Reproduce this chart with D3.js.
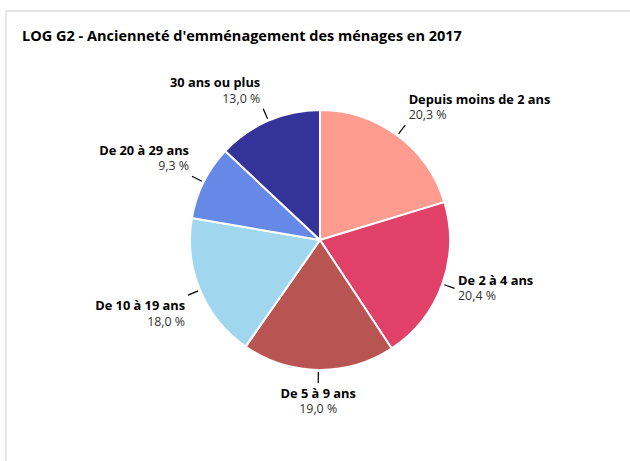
<!DOCTYPE html>
<html><head><meta charset="utf-8">
<script src="https://cdn.jsdelivr.net/npm/d3@7"></script>
<style>body{margin:0;background:#fff;} svg{display:block;font-family:"Open Sans",sans-serif;}</style>
</head><body>
<script>
const title = "LOG G2 - Ancienneté d'emménagement des ménages en 2017";
const categories = ["Depuis moins de 2 ans","De 2 à 4 ans","De 5 à 9 ans","De 10 à 19 ans","De 20 à 29 ans","30 ans ou plus"];
const values = [20.3, 20.4, 19.0, 18.0, 9.3, 13.0];
const colors = ["#ff9b8f","#e14169","#b85552","#a0d7ee","#6688e6","#333399"];

const W = 630, H = 461;
const svg = d3.select("body").append("svg").attr("width", W).attr("height", H);

svg.append("rect").attr("x",6).attr("y",11).attr("width",W+20).attr("height",H+20)
  .attr("fill","#fff").attr("stroke","#e6e6e6").attr("stroke-width",2);

svg.append("text").attr("x",22).attr("y",40.5).attr("font-size",14.5).attr("font-weight","bold")
  .attr("fill","#000").text(title);

const cx = 320, cy = 240, R = 130;
const g = svg.append("g").attr("transform",`translate(${cx},${cy})`);
const pie = d3.pie().sort(null).value(d=>d)(values);
const arc = d3.arc().innerRadius(0).outerRadius(R);

g.selectAll("path.slice").data(pie).enter().append("path")
  .attr("d",arc).attr("fill",(d,i)=>colors[i])
  .attr("stroke","#fff").attr("stroke-width",2).attr("stroke-linejoin","round");

const fmt = v => d3.format(".1f")(v).replace(".",",") + " %";

pie.forEach((d,i)=>{
  const a = (d.startAngle+d.endAngle)/2;
  const s = Math.sin(a), c = Math.cos(a);
  const x1 = (R+2)*s, y1 = -(R+2)*c, x2 = (R+13)*s, y2 = -(R+13)*c;
  g.append("line").attr("x1",x1).attr("y1",y1).attr("x2",x2).attr("y2",y2)
    .attr("stroke","#000").attr("stroke-width",1.2);
  let anchor, tx;
  if (Math.abs(s) < 0.2) { anchor = "middle"; tx = x2; }
  else if (s > 0) { anchor = "start"; tx = x2 + 3.5; }
  else { anchor = "end"; tx = x2 - 3; }
  let dyB;
  if (c > 0.2) dyB = -26;
  else if (c > -0.36) dyB = -8;
  else dyB = 10.5;
  const t = g.append("text").attr("text-anchor",anchor);
  t.append("tspan").attr("x",tx).attr("y",y2+dyB+4.5).attr("font-size",12.8).attr("font-weight","bold").attr("fill","#000").text(categories[i]);
  t.append("tspan").attr("x",tx).attr("y",y2+dyB+4.5+15.5).attr("font-size",12.4).attr("fill","#333").text(fmt(values[i]));
});
</script>
</body></html>
